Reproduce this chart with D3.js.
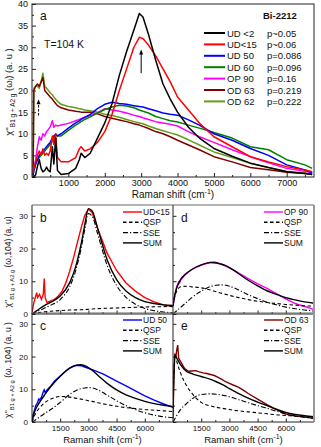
<!DOCTYPE html>
<html><head><meta charset="utf-8">
<script src="https://cdn.jsdelivr.net/npm/d3@7"></script>
<style>body{margin:0;background:#fff} text{font-family:"Liberation Sans",Arial,sans-serif;fill:#111}</style>
</head><body><svg id="c" width="321" height="447"></svg>
<script>
// ---------- DATA : top panel (a) ----------
const topShift = [30,50,100,150,200,250,300,350,400,450,500,560,600,650,700,800,1000,1200,1300,1350,1450,1600,1800,2000,2200,2400,2600,2800,2950,3050,3200,3400,3600,3800,4000,4300,4600,5000,5500,6000,6500,7000,7500,7700];
const ud2  = [0,0,0.5,2.5,4,2,1.2,1.5,2.3,1.5,1.2,7,3,9,1.5,0.6,0.8,2,4,5.5,4.5,5.5,9,12.5,17,23.5,29,34,37.8,37,33,27,21.5,18,15,11.5,9,6.6,4.8,3.2,2.2,1.2,0.8,0.6];
const ud15 = [1,2,3.5,5,6,5,6.5,5,5.5,5,6,9.5,7.5,10,4.5,3.5,3.5,4.5,6.5,7,6,6.5,8,10.5,14.5,20,25,30,32.3,32,30.5,28,25,22,18.5,15.5,12.5,9.3,7,4.7,3.5,2.4,1.6,1.2];
const ud50 = [0.5,1.5,3,4,5,5.5,6,6.5,7,7.5,8,9,9.5,9.8,9.5,10,11.3,12.5,13,13.3,13.8,14.5,15.8,16.8,17.3,17,16.8,16.5,16.3,16.2,15.8,15.3,14.8,14.5,14.3,13.2,12,10,8.5,6.6,5,2.8,1.6,1];
const ud60 = [0.5,1.5,3,4,4.5,5,5.5,6,6.5,7,7.5,8.5,9,10,9.5,9.5,10.8,12,12.5,12.8,13.3,13.9,14.8,15.6,16.2,16.6,16.4,16,15.5,15.2,14.8,14,13.5,13,12.7,12,11.3,10.3,9,7,6.3,4,2.8,2];
const op90 = [1,2,4,7,9.3,8.5,10,9.5,10.5,11,11.6,13,11.5,12,11.8,12,12.4,13,13.3,13.5,13.8,14.2,14.8,15.8,15.5,15.2,14.8,14.3,14,13.7,13.3,12.8,12.5,12.2,11.8,10.5,9.3,8,6.3,4.7,3.3,2,1.3,1];
const od63 = [0,20,21,21.5,21,22,23,20,19.5,19,18.5,18,17.5,17,16.5,16,15.5,15.2,15.1,15,15,15,14.6,14,13.6,13.2,12.8,12.3,12,11.7,11.2,10.5,10,9.3,8.5,7.4,6.3,4.7,3.5,2.2,1.7,1.1,0.8,0.6];
const od62 = [0,20.5,21,21,20.5,22,24,21,20.5,20,19.5,19,18.5,18,17.5,16.8,16.3,16,15.8,15.7,15.5,15.3,15,14.5,14.2,13.8,13.3,12.8,12.5,12.3,11.8,11.2,10.7,10.2,9.7,8.6,7.4,5.8,4.5,3.2,2.2,1.3,0.9,0.7];
const topNames  = ["UD <2","UD<15","UD 50","UD 60","OP 90","OD 63","OD 62"];
const topDoping = ["p~0.05","p~0.06","p=0.086","p=0.096","p=0.16","p=0.219","p=0.222"];
const topColors = ["#000000","#ff0000","#0000ff","#008000","#ff00ff","#800000","#669c1a"];
const topTicksX = [1000,2000,3000,4000,5000,6000,7000];
const topTicksY = [0,5,10,15,20,25,30,35,40];

// ---------- DATA : fit panels (b-e) ----------
const expShift = [0,50,100,150,200,250,300,350,400,500,600,650,700,800,1000,1200,1400,1600,1800,2000,2200,2400,2600,2800,3000,3200,3500,3800,4000,4500,5000,5500,6000,6500,7000,7500];
const fitShift = [0,100,200,400,700,1000,1500,2000,2300,2600,2800,3000,3200,3500,4000,4500,5000,5500,6000,6500,7000,7500];
// b : UD<15
const bExp = [0.5,2,3.5,4.5,5.5,6.5,5,5.5,6,4.5,6,10.8,5,3.5,4,4.5,5.5,7,9.5,13,17,21.5,26,30,32,31,26,21.5,18.5,13.3,9.5,7,5,3.7,2.8,2.2];
const bQSP = [0,0.15,0.25,0.45,0.7,0.85,1.05,1.2,1.25,1.3,1.35,1.45,1.55,1.65,1.75,1.85,1.95,2.05,2.15,2.2,2.25,2.3];
const bSSE = [0,0.3,0.6,1.1,1.9,2.7,4.4,8.3,12.8,19.7,25.6,30.7,29.9,24.3,14.8,8.7,5.1,3,1.7,1,0.6,0.4];
const bSUM = [0,0.4,0.8,1.6,2.7,3.6,5.5,9.5,14,21,27,32.2,31.5,26,16.5,10.5,7,5,3.8,3.2,2.8,2.6];
// d : OP 90
const dExp = [2.5,4,5.5,7,8.5,9,9.8,9.5,10.3,11,11.8,12.2,12.4,12.8,13.6,14.2,14.7,15.1,15.5,15.8,15.9,15.6,15.1,14.6,14.1,13.5,12.5,11.5,10.8,9.2,7.8,6.2,4.6,3.2,2.3,1.4];
const dQSP = [2.5,5.5,7,8.3,8.5,8.3,8,7.3,6.8,6.3,6,5.7,5.4,5,4.4,3.9,3.5,3.2,2.9,2.7,2.5,2.4];
const dSSE = [0,0.5,1,2,3.5,5,7,8.4,8.8,8.9,8.8,8.5,8.1,7.3,5.9,4.7,3.6,2.8,2.1,1.6,1.2,0.9];
const dSUM = [2.5,6,8,10.5,12.3,13.6,15,15.7,15.6,15.2,14.8,14.2,13.5,12.3,10.3,8.6,7.1,6,5,4.3,3.7,3.3];
// c : UD 50
const cExp = [0.5,2,3,4,5,5.5,6,7,6.8,7.5,9.2,9.8,9,9.8,11,12.5,13.5,14.5,15.6,16.4,17,17.3,17.2,16.8,16.4,16,15.3,14.6,14,12.5,11,9.5,8,6.7,5.5,4.5];
const cQSP = [0,1.5,2.7,4.3,6,7,7.8,7.6,7.3,7,6.8,6.5,6.3,5.9,5.3,4.8,4.4,4.1,3.8,3.6,3.4,3.2];
const cSSE = [0,0.3,0.7,1.5,2.7,3.8,6,8.4,9.5,10.2,10.4,10.5,10.4,9.8,8.2,6.5,5,3.8,2.8,2.1,1.6,1.3];
const cSUM = [0,2.5,4,6,8.5,10.8,14,16.5,17.3,17.5,17.2,16.6,15.8,14.3,11.8,9.8,8.3,7.2,6.3,5.6,5.1,4.7];
// e : OD 63
const eExp = [1,15,20.5,20,22,23.5,19.5,19,18.5,17.5,16.5,16.2,16,15.5,15.6,15.7,15.3,15,14.8,14.5,14.2,13.6,13,12.3,11.8,11.3,10.6,9.5,8.7,7,5.3,3.8,2.4,1.8,1.5,1.1];
const eQSP = [4,20.5,18.5,15,11.3,8.8,6,4.9,4.5,4.2,4,3.8,3.6,3.4,3.1,2.8,2.5,2.2,2,1.8,1.6,1.4];
const eSSE = [0,1,2,3.8,5.5,7,8.4,8.6,8.5,8.2,8,7.7,7.4,6.8,5.9,5,4.2,3.3,2.5,1.9,1.5,1.1];
const eSUM = [4,20.5,19.5,17.5,15.5,14.8,13.9,13,12.3,11.5,10.9,10.2,9.6,8.7,7.3,6.1,5,3.9,2.9,2.3,1.9,1.6];
const fitNames = ["QSP","SSE","SUM"];
const fitTicksX = [1500,3000,4500,6000];
const fitTicksY = [0,10,20,30];

// ---------- DRAWING ----------
const svg = d3.select("#c");
const AX = "#222";

function minorAxis(g, axis) {
  g.call(axis).call(s => { s.select(".domain").remove(); s.selectAll("text").remove(); s.selectAll("line").attr("stroke", AX); });
}
function styleAxis(s, fs) {
  s.select(".domain").remove();
  s.selectAll("line").attr("stroke", AX);
  s.selectAll("text").attr("font-size", fs).attr("font-family", "Liberation Sans, Arial, sans-serif").attr("fill", "#111");
}

// ===== panel a =====
const xA = d3.scaleLinear().domain([0, 7750]).range([32, 314]);
const yA = d3.scaleLinear().domain([0, 40]).range([177, 4]);
const gA = svg.append("g");
gA.append("g").attr("transform", "translate(0,177)")
  .call(d3.axisBottom(xA).tickValues(topTicksX).tickSize(-4).tickPadding(3).tickFormat(d3.format("d")))
  .call(s => styleAxis(s, 9));
minorAxis(gA.append("g").attr("transform", "translate(0,177)"),
  d3.axisBottom(xA).tickValues(d3.range(500, 7750, 1000)).tickSize(-2));
gA.append("g").attr("transform", "translate(32,0)")
  .call(d3.axisLeft(yA).tickValues(topTicksY).tickSize(-4).tickPadding(4))
  .call(s => styleAxis(s, 9));
minorAxis(gA.append("g").attr("transform", "translate(32,0)"),
  d3.axisLeft(yA).tickValues(d3.range(2.5, 40, 5)).tickSize(-2));

const topSeries = [ud2, ud15, ud50, ud60, op90, od63, od62];
const lineA = vals => d3.line().x((d, i) => xA(topShift[i])).y(d => yA(d))(vals);
[6, 5, 4, 3, 2, 1, 0].forEach(k => {
  gA.append("path").attr("d", lineA(topSeries[k])).attr("fill", "none")
    .attr("stroke", topColors[k]).attr("stroke-width", 1.5).attr("stroke-linejoin", "round");
});
gA.append("rect").attr("x", 32).attr("y", 4).attr("width", 282).attr("height", 173)
  .attr("fill", "none").attr("stroke", AX).attr("stroke-width", 1);

function arrow(g, x, y0, y1, dashed) {
  g.append("line").attr("x1", x).attr("x2", x).attr("y1", y0).attr("y2", y1 + 4)
    .attr("stroke", "#000").attr("stroke-width", 1).attr("stroke-dasharray", dashed ? "2.5,1.5" : null);
  g.append("path").attr("d", `M${x},${y1} L${x - 2},${y1 + 5} L${x + 2},${y1 + 5} Z`).attr("fill", "#000");
}
arrow(gA, xA(3000), yA(24), yA(29.5), false);
arrow(gA, xA(180), yA(14.2), yA(18), true);

gA.append("text").attr("x", 40).attr("y", 20).attr("font-size", 12).text("a");
gA.append("text").attr("x", 44).attr("y", 48).attr("font-size", 10.5).text("T=104 K");
gA.append("text").attr("x", 263).attr("y", 19).attr("font-size", 9.5).attr("font-weight", "bold").text("Bi-2212");
const leg = gA.append("g");
topNames.forEach((n, i) => {
  const yy = 33 + i * 11.4;
  leg.append("line").attr("x1", 204).attr("x2", 225).attr("y1", yy).attr("y2", yy)
    .attr("stroke", topColors[i]).attr("stroke-width", 2);
  leg.append("text").attr("x", 227).attr("y", yy + 3.5).attr("font-size", 9.5).text(n);
  leg.append("text").attr("x", 267).attr("y", yy + 3.5).attr("font-size", 9.5).text(topDoping[i]);
});
const xl = gA.append("text").attr("x", 173).attr("y", 198).attr("text-anchor", "middle").attr("font-size", 10);
xl.append("tspan").text("Raman shift (cm");
xl.append("tspan").attr("dy", -4).attr("font-size", 7).text("-1");
xl.append("tspan").attr("dy", 4).text(")");

function yLabel(g, cx, cy, arg, fs) {
  const t = g.append("text").attr("transform", `translate(${cx},${cy}) rotate(-90)`)
    .attr("text-anchor", "middle").attr("font-size", fs);
  t.append("tspan").text("χ''");
  t.append("tspan").attr("dy", 3).attr("font-size", fs * 0.68).text("B1 g + A2 g");
  t.append("tspan").attr("dy", -3).text(arg);
}
yLabel(gA, 12, 92, " (ωᵢ) (a. u )", 9.5);

// ===== fit panels =====
const panels = [
  {id: "b", x0: 32, y0: 205, exp: bExp, col: "#ff0000", name: "UD<15", q: bQSP, s: bSSE, m: bSUM, left: true, bottom: false},
  {id: "d", x0: 173, y0: 205, exp: dExp, col: "#ff00ff", name: "OP 90", q: dQSP, s: dSSE, m: dSUM, left: false, bottom: false},
  {id: "c", x0: 32, y0: 313, exp: cExp, col: "#0000ff", name: "UD 50", q: cQSP, s: cSSE, m: cSUM, left: true, bottom: true},
  {id: "e", x0: 173, y0: 313, exp: eExp, col: "#800000", name: "OD 63", q: eQSP, s: eSSE, m: eSUM, left: false, bottom: true}
];
const PW = 141, PH = 109;
panels.forEach(p => {
  const g = svg.append("g");
  const x = d3.scaleLinear().domain([0, 7500]).range([p.x0, p.x0 + PW]);
  const y = d3.scaleLinear().domain([0, 33.3]).range([p.y0 + PH, p.y0]);
  const clipId = "clip" + p.id;
  g.append("clipPath").attr("id", clipId).append("rect")
    .attr("x", p.x0).attr("y", p.y0).attr("width", PW).attr("height", PH);
  const ax = g.append("g").attr("transform", `translate(0,${p.y0 + PH})`)
    .call(d3.axisBottom(x).tickValues(fitTicksX).tickSize(-3.5).tickPadding(3).tickFormat(d3.format("d")))
    .call(s => styleAxis(s, 8));
  if (!p.bottom) ax.selectAll("text").remove();
  minorAxis(g.append("g").attr("transform", `translate(0,${p.y0 + PH})`),
    d3.axisBottom(x).tickValues([750, 2250, 3750, 5250, 6750]).tickSize(-2));
  const ay = g.append("g").attr("transform", `translate(${p.x0},0)`)
    .call(d3.axisLeft(y).tickValues(fitTicksY).tickSize(-3.5).tickPadding(4))
    .call(s => styleAxis(s, 8));
  if (!p.left) ay.selectAll("text").remove();
  minorAxis(g.append("g").attr("transform", `translate(${p.x0},0)`),
    d3.axisLeft(y).tickValues([5, 15, 25]).tickSize(-2));

  const pl = g.append("g").attr("clip-path", `url(#${clipId})`);
  const lineE = d3.line().x((d, i) => x(expShift[i])).y(d => y(d));
  const lineF = d3.line().curve(d3.curveMonotoneX).x((d, i) => x(fitShift[i])).y(d => y(d));
  pl.append("path").attr("d", lineE(p.exp)).attr("fill", "none").attr("stroke", p.col).attr("stroke-width", 1.4);
  pl.append("path").attr("d", lineF(p.q)).attr("fill", "none").attr("stroke", "#000").attr("stroke-width", 1.1).attr("stroke-dasharray", "3.5,2.5");
  pl.append("path").attr("d", lineF(p.s)).attr("fill", "none").attr("stroke", "#000").attr("stroke-width", 1.1).attr("stroke-dasharray", "5,2,1.2,2");
  pl.append("path").attr("d", lineF(p.m)).attr("fill", "none").attr("stroke", "#000").attr("stroke-width", 1.4);

  g.append("line").attr("x1", p.x0).attr("x2", p.x0).attr("y1", p.y0).attr("y2", p.y0 + PH).attr("stroke", AX);
  g.append("line").attr("x1", p.x0).attr("x2", p.x0 + PW).attr("y1", p.y0 + PH).attr("y2", p.y0 + PH).attr("stroke", AX);
  g.append("line").attr("x1", p.x0).attr("x2", p.x0 + PW).attr("y1", p.y0).attr("y2", p.y0).attr("stroke", "#666");
  if (!p.left) g.append("line").attr("x1", p.x0 + PW).attr("x2", p.x0 + PW).attr("y1", p.y0).attr("y2", p.y0 + PH).attr("stroke", "#999").attr("stroke-width", 2);

  g.append("text").attr("x", p.x0 + 8).attr("y", p.y0 + 17).attr("font-size", 12).text(p.id);
  const lx = p.x0 + PW - 50, ly = p.y0 + 7;
  const items = [{n: p.name, c: p.col, dash: null}, {n: fitNames[0], c: "#000", dash: "3.5,2.5"},
                 {n: fitNames[1], c: "#000", dash: "5,2,1.2,2"}, {n: fitNames[2], c: "#000", dash: null}];
  items.forEach((it, i) => {
    const yy = ly + i * 10.3;
    g.append("line").attr("x1", lx).attr("x2", lx + 19).attr("y1", yy).attr("y2", yy)
      .attr("stroke", it.c).attr("stroke-width", 1.4).attr("stroke-dasharray", it.dash);
    g.append("text").attr("x", lx + 20).attr("y", yy + 3).attr("font-size", 8.5).text(it.n);
  });
  if (p.bottom) {
    const t = g.append("text").attr("x", p.x0 + PW / 2).attr("y", 443).attr("text-anchor", "middle").attr("font-size", 9.5);
    t.append("tspan").text("Raman shift (cm");
    t.append("tspan").attr("dy", -4).attr("font-size", 7).text("-1");
    t.append("tspan").attr("dy", 4).text(")");
  }
});
yLabel(svg, 11, 262, " (ω,104) (a. u)", 8.5);
yLabel(svg, 11, 370, " (ω, 104) (a. u )", 8.5);
</script></body></html>
